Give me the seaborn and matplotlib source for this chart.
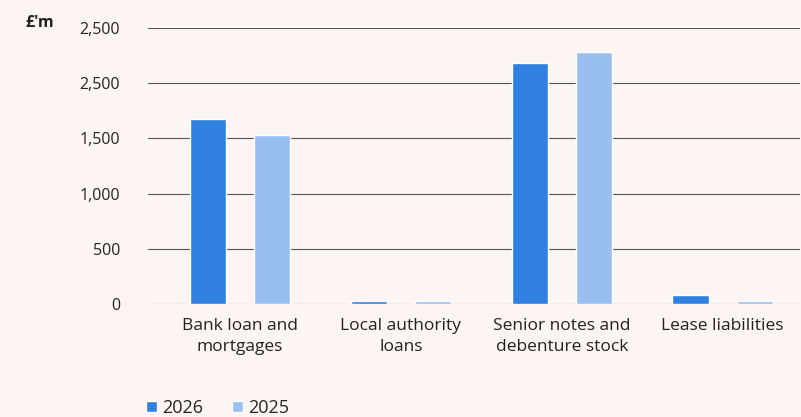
import matplotlib
matplotlib.use("Agg")
import matplotlib.pyplot as plt
import seaborn as sns
import pandas as pd
from matplotlib.patches import Patch

categories = ["Bank loan and\nmortgages", "Local authority\nloans",
              "Senior notes and\ndebenture stock", "Lease liabilities"]
years = ["2026", "2025"]
values_2026 = [1676, 24, 2183, 79]
values_2025 = [1533, 26, 2287, 30]
ytick_values = [0, 500, 1000, 1500, 2000, 2500]
ytick_labels = ["0", "500", "1,000", "1,500", "2,500", "2,500"]

df = pd.DataFrame({
    "category": categories * 2,
    "year": [years[0]] * 4 + [years[1]] * 4,
    "value": values_2026 + values_2025,
})

bg = "#FDF5F3"
c26 = "#2F80E0"
c25 = "#98BFF0"

sns.set_theme(style="white")
plt.rcParams["font.family"] = ["Open Sans", "DejaVu Sans"]

fig = plt.figure(figsize=(8.01, 4.17), dpi=100, facecolor=bg)
ax = fig.add_axes([148/801, 1 - 304/417, (800-148)/801, (304-28)/417])
ax.set_facecolor(bg)

sns.barplot(data=df, x="category", y="value", hue="year", order=categories,
            hue_order=years, palette=[c26, c25], width=0.8, gap=0.44,
            ax=ax, legend=False, saturation=1)

ax.set_ylim(0, 2500)
ax.set_xlim(-0.57, 3.48)
ax.set_yticks(ytick_values)
ax.set_yticklabels(ytick_labels)
for y in ytick_values:
    ax.axhline(y, color="#555555", lw=0.8, zorder=0)
for s in ax.spines.values():
    s.set_visible(False)
ax.tick_params(axis="y", length=0, pad=20, labelsize=11.5, labelcolor="#222222")
ax.tick_params(axis="x", length=0, pad=10, labelsize=12.5, labelcolor="#222222")
for t in ax.get_xticklabels():
    t.set_linespacing(1.45)
ax.set_xlabel("")
ax.set_ylabel("")

fig.text(25/801, 1 - 23/417, "£'m", fontsize=11.5, fontweight="bold",
         color="#222222", va="center", ha="left")

handles = [Patch(facecolor=c26, label="2026"), Patch(facecolor=c25, label="2025")]
fig.legend(handles=handles, loc="center left", bbox_to_anchor=(139/801, 1 - 408/417),
           ncol=2, frameon=False, fontsize=13, handlelength=0.6, handleheight=0.6,
           handletextpad=0.3, columnspacing=1.6, borderaxespad=0)

fig.savefig("out.png", dpi=100, facecolor=bg)
